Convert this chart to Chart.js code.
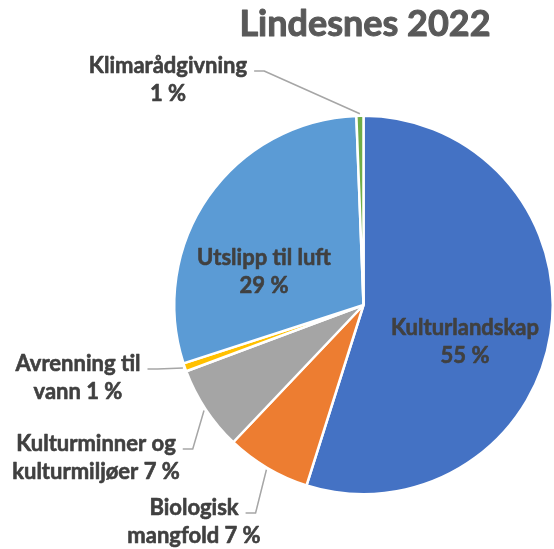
<!DOCTYPE html>
<html>
<head>
<meta charset="utf-8">
<title>Lindesnes 2022</title>
<script src="https://cdn.jsdelivr.net/npm/chart.js@4.4.1/dist/chart.umd.min.js"></script>
<style>
html, body { margin: 0; padding: 0; background: #fff; }
#chartBox { width: 554px; height: 549px; }
</style>
</head>
<body>
<div id="chartBox"><canvas id="myChart" width="554" height="549"></canvas></div>
<script>
// data
const chartTitle = 'Lindesnes 2022';
const categories = ['Kulturlandskap', 'Biologisk mangfold', 'Kulturminner og kulturmiljøer', 'Avrenning til vann', 'Utslipp til luft', 'Klimarådgivning'];
const shares = [54.7, 7.2, 7.2, 0.7, 29.3, 0.6];
// label text, {p} is replaced by the rounded percentage
const labelTexts = ['Kulturlandskap\n{p}', 'Biologisk\nmangfold {p}', 'Kulturminner og\nkulturmiljøer {p}', 'Avrenning til\nvann {p}', 'Utslipp til luft\n{p}', 'Klimarådgivning\n{p}'];

// styling / layout
const sliceColors = ['#4472C4', '#ED7D31', '#A5A5A5', '#FFC000', '#5B9BD5', '#70AD47'];
const labelFont = 'bold 22px Lato';
const titleFont = 'bold 36px Lato';
const lineGap = 28;
// x = centre of the text block, y = baseline of first line, leader = draw a leader line to the slice
const labelSpots = [
    {x: 465, y: 335, leader: false},
    {x: 194, y: 515, leader: true},
    {x: 96, y: 451, leader: true},
    {x: 78, y: 371, leader: true},
    {x: 264, y: 265, leader: false},
    {x: 168, y: 73, leader: true}
];

// bold text with a thin outline in the same colour so it reads heavier
function heavyText(ctx, text, x, y, weight) {
    ctx.lineWidth = weight;
    ctx.lineJoin = 'round';
    ctx.strokeStyle = ctx.fillStyle;
    ctx.strokeText(text, x, y);
    ctx.fillText(text, x, y);
}

const pieLabels = {
    id: 'pieLabels',
    afterDatasetsDraw(chart) {
        const ctx = chart.ctx;
        const meta = chart.getDatasetMeta(0);
        const total = shares.reduce((a, b) => a + b, 0);

        ctx.save();
        ctx.fillStyle = '#595959';
        ctx.font = titleFont;
        ctx.textAlign = 'center';
        ctx.textBaseline = 'alphabetic';
        heavyText(ctx, chartTitle, 365, 36, 1);

        ctx.font = labelFont;
        meta.data.forEach(function(arc, i) {
            const p = arc.getProps(['x', 'y', 'startAngle', 'endAngle', 'outerRadius'], true);
            const pct = Math.round(shares[i] / total * 100) + ' %';
            const lines = labelTexts[i].replace('{p}', pct).split('\n');
            const spot = labelSpots[i];

            ctx.fillStyle = '#404040';
            lines.forEach(function(line, k) {
                heavyText(ctx, line, spot.x, spot.y + k * lineGap, 0.6);
            });

            if (spot.leader) {
                const mid = (p.startAngle + p.endAngle) / 2;
                const ex = p.x + Math.cos(mid) * (p.outerRadius + 2);
                const ey = p.y + Math.sin(mid) * (p.outerRadius + 2);
                const sx = spot.x + ctx.measureText(lines[0]).width / 2 + 7;
                const sy = spot.y - 2;
                ctx.strokeStyle = '#A6A6A6';
                ctx.lineWidth = 1.5;
                ctx.beginPath();
                ctx.moveTo(sx, sy);
                ctx.lineTo(sx + 10, sy);
                ctx.lineTo(ex, ey);
                ctx.stroke();
            }
        });
        ctx.restore();
    }
};

const ctx = document.getElementById('myChart');
const myChart = new Chart(ctx, {
    type: 'pie',
    data: {
        labels: categories,
        datasets: [{
            data: shares,
            backgroundColor: sliceColors,
            borderColor: '#ffffff',
            borderWidth: 2.5
        }]
    },
    options: {
        responsive: false,
        animation: false,
        layout: {
            padding: {left: 173, right: 0, top: 114, bottom: 53}
        },
        plugins: {
            legend: {display: false},
            tooltip: {enabled: false},
            title: {display: false}
        }
    },
    plugins: [pieLabels]
});
</script>
</body>
</html>
